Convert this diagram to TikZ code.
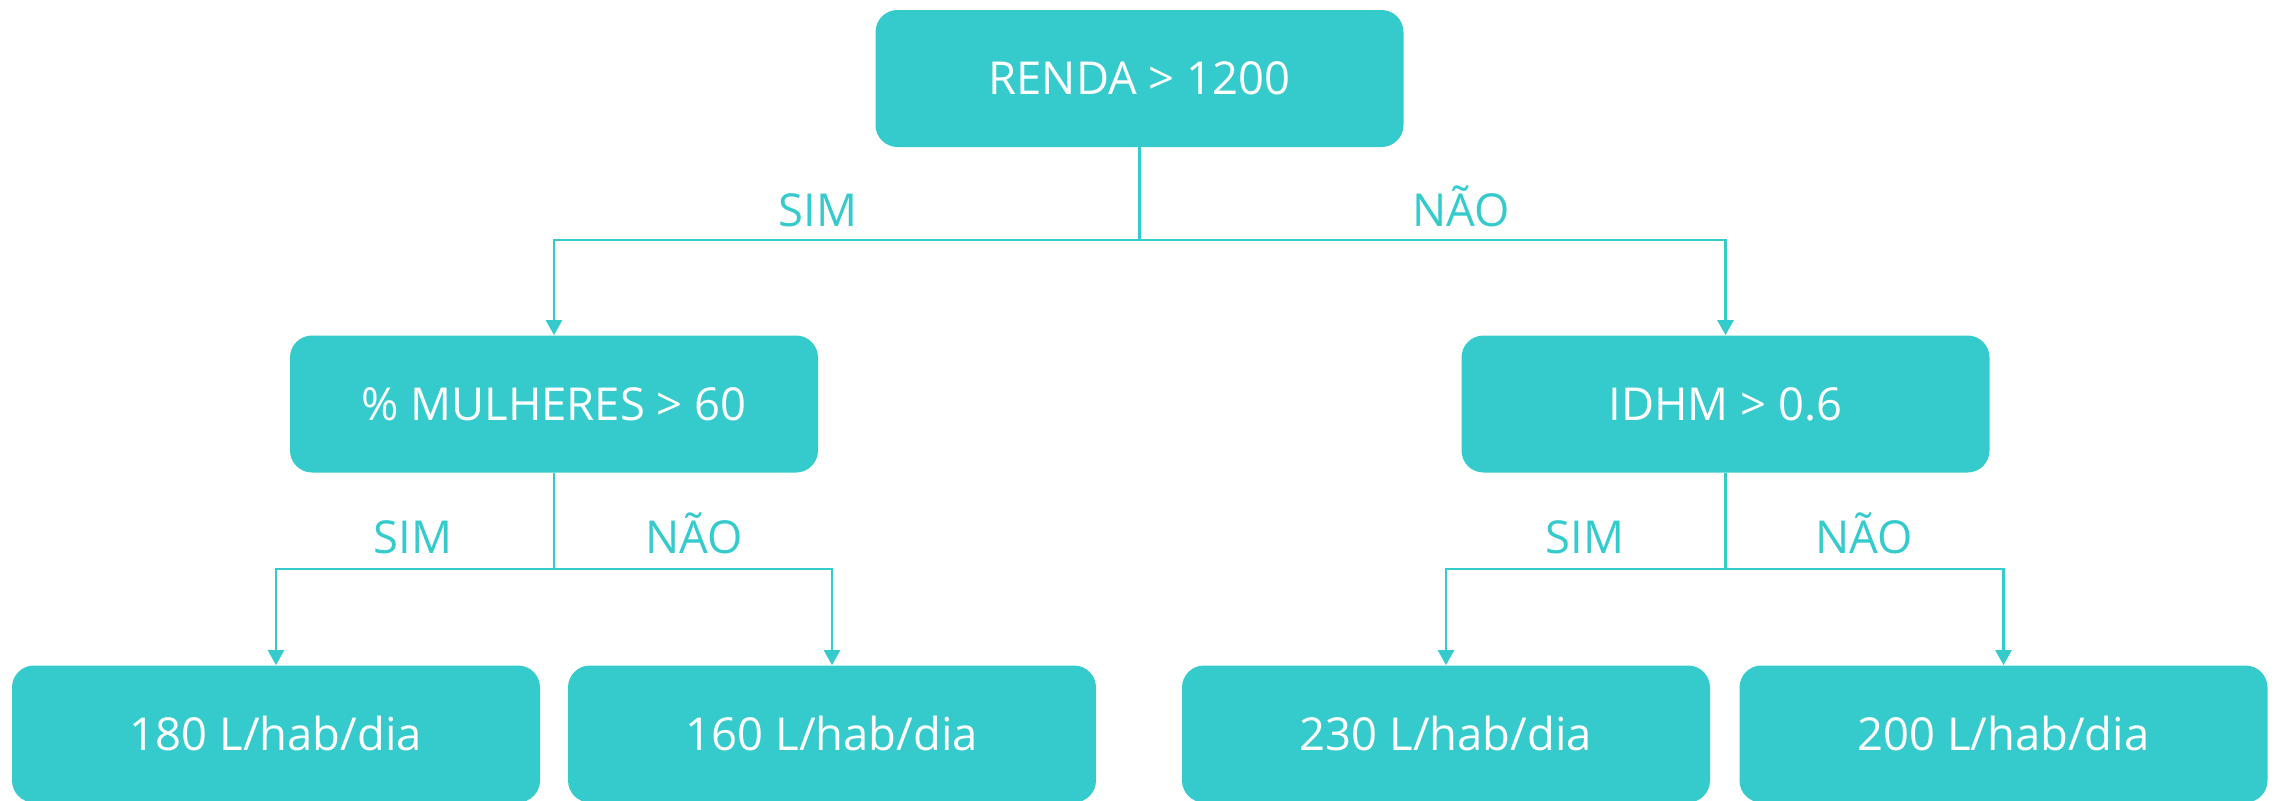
\documentclass[tikz,border=0pt]{standalone}
\usepackage{fontspec}
\setmainfont{Open Sans}
\usetikzlibrary{arrows.meta}
\definecolor{teal}{RGB}{53,203,204}
\tikzset{
  box/.style={draw=none, fill=teal, rounded corners=11pt, minimum width=264pt,
    minimum height=68.5pt, inner sep=0pt, text=white, font=\fontsize{22.7}{27}\selectfont,
    text height=16.2pt, text depth=0pt},
  lbl/.style={anchor=base, text=teal, inner sep=0pt, font=\fontsize{22.7}{27}\selectfont},
  link/.style={draw=teal, line width=1.3pt},
  arr/.style={link, -{Triangle[width=8pt,length=7.5pt]}}
}
\begin{document}
\begin{tikzpicture}[x=0.5pt,y=-0.5pt]
\useasboundingbox (0,0) rectangle (2282,800);
% decision nodes
\node[box] (root) at (1139.5,78.5) {RENDA > 1200};
\node[box] (ml) at (554,404) {\% MULHERES > 60};
\node[box] (mr) at (1725.5,404) {IDHM > 0.6};
% leaves
\node[box] (l1) at (276,734) {180 L/hab/dia};
\node[box] (l2) at (832,734) {160 L/hab/dia};
\node[box] (l3) at (1446,734) {230 L/hab/dia};
\node[box] (l4) at (2003.5,734) {200 L/hab/dia};
% junctions
\coordinate (j0) at (root.south |- 0,240);
\coordinate (j1) at (ml.south |- 0,569);
\coordinate (j2) at (mr.south |- 0,569);
% connectors
\draw[link] (root.south) -- (j0);
\draw[arr] (j0) -| (ml.north);
\draw[arr] (j0) -| (mr.north);
\draw[link] (ml.south) -- (j1);
\draw[arr] (j1) -| (l1.north);
\draw[arr] (j1) -| (l2.north);
\draw[link] (mr.south) -- (j2);
\draw[arr] (j2) -| (l3.north);
\draw[arr] (j2) -| (l4.north);
% branch labels
\node[lbl] (s0) at (818,226) {SIM};
\node[lbl] (n0) at (1461,226) {NÃO};
\node[lbl] (s1) at (413,553) {SIM};
\node[lbl] (n1) at (694,553) {NÃO};
\node[lbl] (s2) at (1585,553) {SIM};
\node[lbl] (n2) at (1864,553) {NÃO};
\end{tikzpicture}
\end{document}
